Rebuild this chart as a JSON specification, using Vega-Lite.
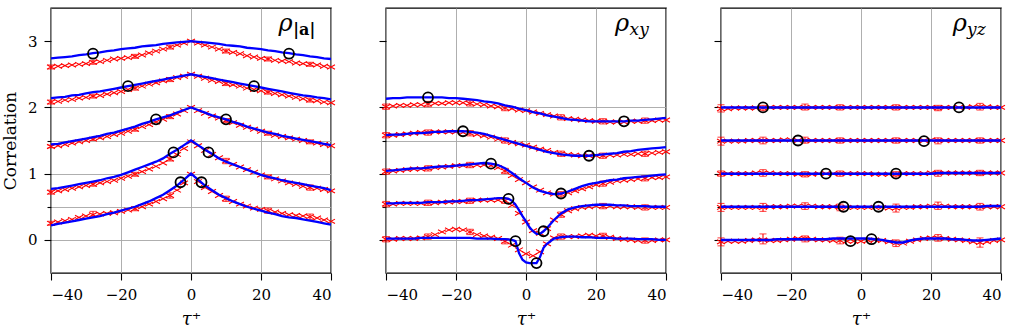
{
  "$schema": "https://vega.github.io/schema/vega-lite/v6.json",
  "background": "white",
  "padding": {"left": 0, "top": 7, "right": 0, "bottom": 0},
  "bounds": "flush",
  "spacing": 55,
  "config": {
    "view": {"stroke": "black", "strokeWidth": 1.4},
    "font": "DejaVu Serif",
    "text": {"font": "DejaVu Serif"},
    "axis": {
      "domain": false,
      "grid": true,
      "gridColor": "#a6a6a6",
      "gridWidth": 0.9,
      "tickColor": "black",
      "tickWidth": 1.1,
      "tickSize": 7,
      "labelFont": "DejaVu Serif",
      "labelFontSize": 15,
      "labelColor": "black",
      "labelPadding": 7,
      "titleFont": "DejaVu Serif",
      "titleFontWeight": "normal",
      "titleColor": "black"
    },
    "axisX": {"titleFontStyle": "italic", "titleFontSize": 18, "titlePadding": 8},
    "axisY": {
      "titleFontSize": 17,
      "titlePadding": 8,
      "labelExpr": "datum.value % 1 === 0 ? format(datum.value, 'd') : ''",
      "tickSize": {"condition": {"test": "datum.value % 1 !== 0", "value": 4}, "value": 7},
      "gridOpacity": {"condition": {"test": "datum.value === 3", "value": 0}, "value": 1}
    }
  },
  "datasets": {
    "a": [
      {"k":0,"t":-40,"m":0.22,"d":0.25,"lo":0.22,"hi":0.28},{"k":0,"t":-38,"m":0.24,"d":0.27},{"k":0,"t":-36,"m":0.26,"d":0.29},{"k":0,"t":-34,"m":0.28,"d":0.31},{"k":0,"t":-32,"m":0.30,"d":0.34},{"k":0,"t":-30,"m":0.32,"d":0.36},{"k":0,"t":-28,"m":0.34,"d":0.38,"lo":0.35,"hi":0.43},{"k":0,"t":-26,"m":0.36,"d":0.39},{"k":0,"t":-24,"m":0.39,"d":0.40},{"k":0,"t":-22,"m":0.41,"d":0.41},{"k":0,"t":-20,"m":0.44,"d":0.43},{"k":0,"t":-18,"m":0.47,"d":0.45},{"k":0,"t":-16,"m":0.50,"d":0.47,"lo":0.44,"hi":0.50},{"k":0,"t":-14,"m":0.54,"d":0.50},{"k":0,"t":-12,"m":0.58,"d":0.54},{"k":0,"t":-10,"m":0.63,"d":0.58},{"k":0,"t":-8,"m":0.68,"d":0.62},{"k":0,"t":-6,"m":0.75,"d":0.67,"lo":0.63,"hi":0.71},{"k":0,"t":-4,"m":0.82,"d":0.75},{"k":0,"t":-2,"m":0.91,"d":0.86},{"k":0,"t":0,"m":1.00,"d":0.99},{"k":0,"t":2,"m":0.91,"d":0.88},{"k":0,"t":4,"m":0.82,"d":0.79},{"k":0,"t":6,"m":0.75,"d":0.73},{"k":0,"t":8,"m":0.68,"d":0.67},{"k":0,"t":10,"m":0.63,"d":0.62,"lo":0.58,"hi":0.66},{"k":0,"t":12,"m":0.58,"d":0.58},{"k":0,"t":14,"m":0.54,"d":0.54},{"k":0,"t":16,"m":0.50,"d":0.51},{"k":0,"t":18,"m":0.47,"d":0.48},{"k":0,"t":20,"m":0.44,"d":0.46},{"k":0,"t":22,"m":0.41,"d":0.44,"lo":0.40,"hi":0.48},{"k":0,"t":24,"m":0.39,"d":0.42},{"k":0,"t":26,"m":0.36,"d":0.40},{"k":0,"t":28,"m":0.34,"d":0.38},{"k":0,"t":30,"m":0.33,"d":0.37},{"k":0,"t":32,"m":0.31,"d":0.36},{"k":0,"t":34,"m":0.29,"d":0.35,"lo":0.31,"hi":0.39},{"k":0,"t":36,"m":0.27,"d":0.33},{"k":0,"t":38,"m":0.25,"d":0.30},{"k":0,"t":40,"m":0.23,"d":0.28},
      {"k":1,"t":-40,"m":0.77,"d":0.72,"lo":0.69,"hi":0.75},{"k":1,"t":-38,"m":0.78,"d":0.74},{"k":1,"t":-36,"m":0.80,"d":0.76},{"k":1,"t":-34,"m":0.82,"d":0.78},{"k":1,"t":-32,"m":0.84,"d":0.80},{"k":1,"t":-30,"m":0.86,"d":0.82},{"k":1,"t":-28,"m":0.88,"d":0.84,"lo":0.81,"hi":0.87},{"k":1,"t":-26,"m":0.90,"d":0.86},{"k":1,"t":-24,"m":0.93,"d":0.88},{"k":1,"t":-22,"m":0.95,"d":0.90},{"k":1,"t":-20,"m":0.98,"d":0.93},{"k":1,"t":-18,"m":1.02,"d":0.96},{"k":1,"t":-16,"m":1.06,"d":0.99,"lo":0.96,"hi":1.02},{"k":1,"t":-14,"m":1.10,"d":1.03},{"k":1,"t":-12,"m":1.14,"d":1.07},{"k":1,"t":-10,"m":1.18,"d":1.11},{"k":1,"t":-8,"m":1.23,"d":1.16},{"k":1,"t":-6,"m":1.30,"d":1.22,"lo":1.19,"hi":1.25},{"k":1,"t":-4,"m":1.36,"d":1.29},{"k":1,"t":-2,"m":1.43,"d":1.38},{"k":1,"t":0,"m":1.50,"d":1.48},{"k":1,"t":2,"m":1.43,"d":1.42},{"k":1,"t":4,"m":1.36,"d":1.35},{"k":1,"t":6,"m":1.30,"d":1.29},{"k":1,"t":8,"m":1.23,"d":1.24},{"k":1,"t":10,"m":1.18,"d":1.19,"lo":1.15,"hi":1.23},{"k":1,"t":12,"m":1.14,"d":1.14},{"k":1,"t":14,"m":1.10,"d":1.10},{"k":1,"t":16,"m":1.06,"d":1.06},{"k":1,"t":18,"m":1.02,"d":1.02},{"k":1,"t":20,"m":0.98,"d":0.98},{"k":1,"t":22,"m":0.95,"d":0.95,"lo":0.92,"hi":0.98},{"k":1,"t":24,"m":0.93,"d":0.92},{"k":1,"t":26,"m":0.90,"d":0.89},{"k":1,"t":28,"m":0.88,"d":0.86},{"k":1,"t":30,"m":0.86,"d":0.84},{"k":1,"t":32,"m":0.84,"d":0.81},{"k":1,"t":34,"m":0.82,"d":0.79,"lo":0.75,"hi":0.83},{"k":1,"t":36,"m":0.80,"d":0.78},{"k":1,"t":38,"m":0.78,"d":0.76},{"k":1,"t":40,"m":0.75,"d":0.74},
      {"k":2,"t":-40,"m":1.44,"d":1.41,"lo":1.39,"hi":1.43},{"k":2,"t":-38,"m":1.45,"d":1.42},{"k":2,"t":-36,"m":1.47,"d":1.44},{"k":2,"t":-34,"m":1.49,"d":1.46},{"k":2,"t":-32,"m":1.51,"d":1.48},{"k":2,"t":-30,"m":1.53,"d":1.50},{"k":2,"t":-28,"m":1.55,"d":1.52,"lo":1.50,"hi":1.54},{"k":2,"t":-26,"m":1.57,"d":1.54},{"k":2,"t":-24,"m":1.60,"d":1.56},{"k":2,"t":-22,"m":1.62,"d":1.59},{"k":2,"t":-20,"m":1.65,"d":1.61},{"k":2,"t":-18,"m":1.68,"d":1.64},{"k":2,"t":-16,"m":1.71,"d":1.67,"lo":1.64,"hi":1.70},{"k":2,"t":-14,"m":1.75,"d":1.71},{"k":2,"t":-12,"m":1.78,"d":1.74},{"k":2,"t":-10,"m":1.82,"d":1.78},{"k":2,"t":-8,"m":1.85,"d":1.82},{"k":2,"t":-6,"m":1.88,"d":1.86,"lo":1.83,"hi":1.89},{"k":2,"t":-4,"m":1.92,"d":1.90},{"k":2,"t":-2,"m":1.96,"d":1.95},{"k":2,"t":0,"m":2.00,"d":2.00},{"k":2,"t":2,"m":1.96,"d":1.95},{"k":2,"t":4,"m":1.92,"d":1.91},{"k":2,"t":6,"m":1.88,"d":1.87},{"k":2,"t":8,"m":1.85,"d":1.84},{"k":2,"t":10,"m":1.82,"d":1.80,"lo":1.77,"hi":1.83},{"k":2,"t":12,"m":1.78,"d":1.77},{"k":2,"t":14,"m":1.75,"d":1.73},{"k":2,"t":16,"m":1.71,"d":1.70},{"k":2,"t":18,"m":1.68,"d":1.67},{"k":2,"t":20,"m":1.65,"d":1.64},{"k":2,"t":22,"m":1.62,"d":1.61,"lo":1.58,"hi":1.64},{"k":2,"t":24,"m":1.60,"d":1.58},{"k":2,"t":26,"m":1.57,"d":1.56},{"k":2,"t":28,"m":1.55,"d":1.54},{"k":2,"t":30,"m":1.53,"d":1.52},{"k":2,"t":32,"m":1.51,"d":1.50},{"k":2,"t":34,"m":1.49,"d":1.48,"lo":1.45,"hi":1.51},{"k":2,"t":36,"m":1.47,"d":1.46},{"k":2,"t":38,"m":1.45,"d":1.44},{"k":2,"t":40,"m":1.43,"d":1.42},
      {"k":3,"t":-40,"m":2.14,"d":2.08,"lo":2.05,"hi":2.11},{"k":3,"t":-38,"m":2.15,"d":2.09},{"k":3,"t":-36,"m":2.16,"d":2.11},{"k":3,"t":-34,"m":2.18,"d":2.12},{"k":3,"t":-32,"m":2.19,"d":2.14},{"k":3,"t":-30,"m":2.21,"d":2.15},{"k":3,"t":-28,"m":2.23,"d":2.17,"lo":2.14,"hi":2.20},{"k":3,"t":-26,"m":2.24,"d":2.18},{"k":3,"t":-24,"m":2.26,"d":2.20},{"k":3,"t":-22,"m":2.28,"d":2.22},{"k":3,"t":-20,"m":2.30,"d":2.24},{"k":3,"t":-18,"m":2.32,"d":2.27},{"k":3,"t":-16,"m":2.34,"d":2.29,"lo":2.26,"hi":2.32},{"k":3,"t":-14,"m":2.36,"d":2.32},{"k":3,"t":-12,"m":2.38,"d":2.35},{"k":3,"t":-10,"m":2.40,"d":2.37},{"k":3,"t":-8,"m":2.42,"d":2.40},{"k":3,"t":-6,"m":2.44,"d":2.42,"lo":2.39,"hi":2.45},{"k":3,"t":-4,"m":2.46,"d":2.45},{"k":3,"t":-2,"m":2.48,"d":2.47},{"k":3,"t":0,"m":2.50,"d":2.50},{"k":3,"t":2,"m":2.48,"d":2.47},{"k":3,"t":4,"m":2.46,"d":2.44},{"k":3,"t":6,"m":2.44,"d":2.41},{"k":3,"t":8,"m":2.42,"d":2.39},{"k":3,"t":10,"m":2.40,"d":2.36,"lo":2.33,"hi":2.39},{"k":3,"t":12,"m":2.38,"d":2.34},{"k":3,"t":14,"m":2.36,"d":2.32},{"k":3,"t":16,"m":2.34,"d":2.29},{"k":3,"t":18,"m":2.32,"d":2.27},{"k":3,"t":20,"m":2.30,"d":2.25},{"k":3,"t":22,"m":2.28,"d":2.23,"lo":2.20,"hi":2.26},{"k":3,"t":24,"m":2.26,"d":2.21},{"k":3,"t":26,"m":2.24,"d":2.19},{"k":3,"t":28,"m":2.22,"d":2.17},{"k":3,"t":30,"m":2.20,"d":2.15},{"k":3,"t":32,"m":2.18,"d":2.13},{"k":3,"t":34,"m":2.17,"d":2.11,"lo":2.08,"hi":2.14},{"k":3,"t":36,"m":2.15,"d":2.10},{"k":3,"t":38,"m":2.14,"d":2.08},{"k":3,"t":40,"m":2.12,"d":2.07},
      {"k":4,"t":-40,"m":2.74,"d":2.61,"lo":2.58,"hi":2.64},{"k":4,"t":-38,"m":2.75,"d":2.62},{"k":4,"t":-36,"m":2.76,"d":2.63},{"k":4,"t":-34,"m":2.77,"d":2.64},{"k":4,"t":-32,"m":2.79,"d":2.65},{"k":4,"t":-30,"m":2.80,"d":2.66},{"k":4,"t":-28,"m":2.82,"d":2.68,"lo":2.65,"hi":2.71},{"k":4,"t":-26,"m":2.83,"d":2.69},{"k":4,"t":-24,"m":2.85,"d":2.71},{"k":4,"t":-22,"m":2.86,"d":2.73},{"k":4,"t":-20,"m":2.88,"d":2.74},{"k":4,"t":-18,"m":2.89,"d":2.75},{"k":4,"t":-16,"m":2.90,"d":2.77,"lo":2.74,"hi":2.80},{"k":4,"t":-14,"m":2.92,"d":2.79},{"k":4,"t":-12,"m":2.93,"d":2.82},{"k":4,"t":-10,"m":2.94,"d":2.85},{"k":4,"t":-8,"m":2.96,"d":2.88},{"k":4,"t":-6,"m":2.97,"d":2.91,"lo":2.88,"hi":2.94},{"k":4,"t":-4,"m":2.98,"d":2.94},{"k":4,"t":-2,"m":2.99,"d":2.97},{"k":4,"t":0,"m":3.00,"d":3.00},{"k":4,"t":2,"m":2.99,"d":2.97},{"k":4,"t":4,"m":2.98,"d":2.94},{"k":4,"t":6,"m":2.97,"d":2.91},{"k":4,"t":8,"m":2.96,"d":2.88},{"k":4,"t":10,"m":2.94,"d":2.85,"lo":2.82,"hi":2.88},{"k":4,"t":12,"m":2.93,"d":2.83},{"k":4,"t":14,"m":2.92,"d":2.81},{"k":4,"t":16,"m":2.90,"d":2.78},{"k":4,"t":18,"m":2.89,"d":2.76},{"k":4,"t":20,"m":2.88,"d":2.74},{"k":4,"t":22,"m":2.86,"d":2.73,"lo":2.70,"hi":2.76},{"k":4,"t":24,"m":2.85,"d":2.71},{"k":4,"t":26,"m":2.83,"d":2.70},{"k":4,"t":28,"m":2.82,"d":2.69},{"k":4,"t":30,"m":2.80,"d":2.67},{"k":4,"t":32,"m":2.79,"d":2.66},{"k":4,"t":34,"m":2.77,"d":2.65,"lo":2.62,"hi":2.68},{"k":4,"t":36,"m":2.76,"d":2.64},{"k":4,"t":38,"m":2.74,"d":2.62},{"k":4,"t":40,"m":2.73,"d":2.61}
    ],
    "xy": [
      {"k":0,"t":-40,"m":0.02,"d":0.01,"lo":-0.03,"hi":0.05},{"k":0,"t":-38,"m":0.02,"d":0.01},{"k":0,"t":-36,"m":0.02,"d":0.02},{"k":0,"t":-34,"m":0.02,"d":0.02},{"k":0,"t":-32,"m":0.02,"d":0.02},{"k":0,"t":-30,"m":0.03,"d":0.03},{"k":0,"t":-28,"m":0.03,"d":0.05,"lo":0.01,"hi":0.09},{"k":0,"t":-26,"m":0.03,"d":0.08},{"k":0,"t":-24,"m":0.03,"d":0.12},{"k":0,"t":-22,"m":0.03,"d":0.15},{"k":0,"t":-20,"m":0.03,"d":0.16},{"k":0,"t":-18,"m":0.03,"d":0.15},{"k":0,"t":-16,"m":0.03,"d":0.12,"lo":0.08,"hi":0.16},{"k":0,"t":-14,"m":0.02,"d":0.08},{"k":0,"t":-12,"m":0.02,"d":0.06},{"k":0,"t":-10,"m":0.02,"d":0.04},{"k":0,"t":-8,"m":0.01,"d":0.02},{"k":0,"t":-6,"m":0.01,"d":-0.02,"lo":-0.06,"hi":0.02},{"k":0,"t":-4,"m":0.00,"d":-0.08},{"k":0,"t":-3,"m":-0.02},{"k":0,"t":-2,"m":-0.20,"d":-0.15},{"k":0,"t":-1,"m":-0.30},{"k":0,"t":0,"m":-0.34,"d":-0.21},{"k":0,"t":1,"m":-0.35},{"k":0,"t":2,"m":-0.35,"d":-0.24},{"k":0,"t":3,"m":-0.35},{"k":0,"t":4,"m":-0.26,"d":-0.18},{"k":0,"t":5,"m":-0.12},{"k":0,"t":6,"m":-0.06,"d":-0.06},{"k":0,"t":8,"m":0.02,"d":0.03},{"k":0,"t":10,"m":0.04,"d":0.05,"lo":0.01,"hi":0.09},{"k":0,"t":12,"m":0.05,"d":0.05},{"k":0,"t":14,"m":0.05,"d":0.05},{"k":0,"t":16,"m":0.04,"d":0.06},{"k":0,"t":18,"m":0.04,"d":0.07},{"k":0,"t":20,"m":0.03,"d":0.06},{"k":0,"t":22,"m":0.03,"d":0.06,"lo":0.02,"hi":0.10},{"k":0,"t":24,"m":0.03,"d":0.04},{"k":0,"t":26,"m":0.02,"d":0.02},{"k":0,"t":28,"m":0.02,"d":0.01},{"k":0,"t":30,"m":0.02,"d":0.00},{"k":0,"t":32,"m":0.01,"d":-0.01},{"k":0,"t":34,"m":0.01,"d":-0.01,"lo":-0.05,"hi":0.03},{"k":0,"t":36,"m":0.01,"d":-0.01},{"k":0,"t":38,"m":0.00,"d":0.00},{"k":0,"t":40,"m":0.00,"d":0.00},
      {"k":1,"t":-40,"m":0.55,"d":0.54,"lo":0.50,"hi":0.58},{"k":1,"t":-38,"m":0.55,"d":0.54},{"k":1,"t":-36,"m":0.56,"d":0.55},{"k":1,"t":-34,"m":0.56,"d":0.55},{"k":1,"t":-32,"m":0.56,"d":0.55},{"k":1,"t":-30,"m":0.56,"d":0.55},{"k":1,"t":-28,"m":0.57,"d":0.56,"lo":0.52,"hi":0.60},{"k":1,"t":-26,"m":0.57,"d":0.56},{"k":1,"t":-24,"m":0.57,"d":0.57},{"k":1,"t":-22,"m":0.58,"d":0.57},{"k":1,"t":-20,"m":0.58,"d":0.58},{"k":1,"t":-18,"m":0.59,"d":0.58},{"k":1,"t":-16,"m":0.60,"d":0.59,"lo":0.55,"hi":0.63},{"k":1,"t":-14,"m":0.60,"d":0.60},{"k":1,"t":-12,"m":0.61,"d":0.60},{"k":1,"t":-10,"m":0.62,"d":0.60},{"k":1,"t":-8,"m":0.63,"d":0.60},{"k":1,"t":-6,"m":0.63,"d":0.59,"lo":0.55,"hi":0.63},{"k":1,"t":-5,"m":0.62},{"k":1,"t":-4,"m":0.59,"d":0.52},{"k":1,"t":-3,"m":0.53},{"k":1,"t":-2,"m":0.45,"d":0.40},{"k":1,"t":-1,"m":0.36},{"k":1,"t":0,"m":0.28,"d":0.27},{"k":1,"t":1,"m":0.19},{"k":1,"t":2,"m":0.13,"d":0.14},{"k":1,"t":3,"m":0.09},{"k":1,"t":4,"m":0.09,"d":0.10},{"k":1,"t":5,"m":0.13},{"k":1,"t":6,"m":0.18,"d":0.17},{"k":1,"t":8,"m":0.30,"d":0.30},{"k":1,"t":10,"m":0.40,"d":0.38,"lo":0.34,"hi":0.42},{"k":1,"t":12,"m":0.46,"d":0.44},{"k":1,"t":14,"m":0.49,"d":0.47},{"k":1,"t":16,"m":0.51,"d":0.49},{"k":1,"t":18,"m":0.52,"d":0.50},{"k":1,"t":20,"m":0.53,"d":0.51},{"k":1,"t":22,"m":0.53,"d":0.51,"lo":0.47,"hi":0.55},{"k":1,"t":24,"m":0.53,"d":0.51},{"k":1,"t":26,"m":0.52,"d":0.50},{"k":1,"t":28,"m":0.52,"d":0.50},{"k":1,"t":30,"m":0.51,"d":0.50},{"k":1,"t":32,"m":0.51,"d":0.49},{"k":1,"t":34,"m":0.51,"d":0.49,"lo":0.45,"hi":0.53},{"k":1,"t":36,"m":0.50,"d":0.49},{"k":1,"t":38,"m":0.50,"d":0.49},{"k":1,"t":40,"m":0.50,"d":0.49},
      {"k":2,"t":-40,"m":1.04,"d":1.03,"lo":0.99,"hi":1.07},{"k":2,"t":-38,"m":1.05,"d":1.04},{"k":2,"t":-36,"m":1.06,"d":1.05},{"k":2,"t":-34,"m":1.07,"d":1.06},{"k":2,"t":-32,"m":1.08,"d":1.07},{"k":2,"t":-30,"m":1.08,"d":1.07},{"k":2,"t":-28,"m":1.09,"d":1.08,"lo":1.04,"hi":1.12},{"k":2,"t":-26,"m":1.10,"d":1.09},{"k":2,"t":-24,"m":1.11,"d":1.10},{"k":2,"t":-22,"m":1.11,"d":1.11},{"k":2,"t":-20,"m":1.12,"d":1.12},{"k":2,"t":-18,"m":1.13,"d":1.12},{"k":2,"t":-16,"m":1.14,"d":1.13,"lo":1.09,"hi":1.17},{"k":2,"t":-14,"m":1.15,"d":1.13},{"k":2,"t":-12,"m":1.16,"d":1.13},{"k":2,"t":-10,"m":1.15,"d":1.12},{"k":2,"t":-8,"m":1.13,"d":1.09},{"k":2,"t":-6,"m":1.08,"d":1.04,"lo":1.00,"hi":1.08},{"k":2,"t":-4,"m":1.01,"d":0.97},{"k":2,"t":-2,"m":0.93,"d":0.91},{"k":2,"t":0,"m":0.86,"d":0.86},{"k":2,"t":2,"m":0.79,"d":0.80},{"k":2,"t":4,"m":0.74,"d":0.75},{"k":2,"t":6,"m":0.71,"d":0.71},{"k":2,"t":8,"m":0.69,"d":0.69},{"k":2,"t":10,"m":0.70,"d":0.69,"lo":0.65,"hi":0.73},{"k":2,"t":12,"m":0.73,"d":0.71},{"k":2,"t":14,"m":0.77,"d":0.74},{"k":2,"t":16,"m":0.81,"d":0.77},{"k":2,"t":18,"m":0.84,"d":0.80},{"k":2,"t":20,"m":0.86,"d":0.83},{"k":2,"t":22,"m":0.88,"d":0.85,"lo":0.81,"hi":0.89},{"k":2,"t":24,"m":0.90,"d":0.87},{"k":2,"t":26,"m":0.91,"d":0.89},{"k":2,"t":28,"m":0.93,"d":0.90},{"k":2,"t":30,"m":0.94,"d":0.91},{"k":2,"t":32,"m":0.95,"d":0.92},{"k":2,"t":34,"m":0.96,"d":0.93,"lo":0.89,"hi":0.97},{"k":2,"t":36,"m":0.97,"d":0.94},{"k":2,"t":38,"m":0.98,"d":0.94},{"k":2,"t":40,"m":0.99,"d":0.95},
      {"k":3,"t":-40,"m":1.58,"d":1.58,"lo":1.54,"hi":1.62},{"k":3,"t":-38,"m":1.59,"d":1.58},{"k":3,"t":-36,"m":1.59,"d":1.59},{"k":3,"t":-34,"m":1.60,"d":1.60},{"k":3,"t":-32,"m":1.61,"d":1.61},{"k":3,"t":-30,"m":1.61,"d":1.62},{"k":3,"t":-28,"m":1.62,"d":1.62,"lo":1.58,"hi":1.66},{"k":3,"t":-26,"m":1.63,"d":1.63},{"k":3,"t":-24,"m":1.63,"d":1.63},{"k":3,"t":-22,"m":1.64,"d":1.63},{"k":3,"t":-20,"m":1.64,"d":1.63},{"k":3,"t":-18,"m":1.64,"d":1.62},{"k":3,"t":-16,"m":1.63,"d":1.61,"lo":1.57,"hi":1.65},{"k":3,"t":-14,"m":1.62,"d":1.59},{"k":3,"t":-12,"m":1.60,"d":1.57},{"k":3,"t":-10,"m":1.57,"d":1.55},{"k":3,"t":-8,"m":1.54,"d":1.52},{"k":3,"t":-6,"m":1.51,"d":1.50,"lo":1.46,"hi":1.54},{"k":3,"t":-4,"m":1.48,"d":1.47},{"k":3,"t":-2,"m":1.45,"d":1.45},{"k":3,"t":0,"m":1.42,"d":1.43},{"k":3,"t":2,"m":1.39,"d":1.40},{"k":3,"t":4,"m":1.36,"d":1.37},{"k":3,"t":6,"m":1.33,"d":1.35},{"k":3,"t":8,"m":1.31,"d":1.32},{"k":3,"t":10,"m":1.29,"d":1.30,"lo":1.26,"hi":1.34},{"k":3,"t":12,"m":1.28,"d":1.29},{"k":3,"t":14,"m":1.27,"d":1.28},{"k":3,"t":16,"m":1.27,"d":1.27},{"k":3,"t":18,"m":1.27,"d":1.27},{"k":3,"t":20,"m":1.28,"d":1.27},{"k":3,"t":22,"m":1.29,"d":1.27,"lo":1.23,"hi":1.31},{"k":3,"t":24,"m":1.30,"d":1.28},{"k":3,"t":26,"m":1.31,"d":1.28},{"k":3,"t":28,"m":1.33,"d":1.29},{"k":3,"t":30,"m":1.34,"d":1.29},{"k":3,"t":32,"m":1.36,"d":1.30},{"k":3,"t":34,"m":1.37,"d":1.30,"lo":1.26,"hi":1.34},{"k":3,"t":36,"m":1.38,"d":1.31},{"k":3,"t":38,"m":1.39,"d":1.32},{"k":3,"t":40,"m":1.40,"d":1.33},
      {"k":4,"t":-40,"m":2.13,"d":2.01,"lo":1.97,"hi":2.05},{"k":4,"t":-38,"m":2.14,"d":2.02},{"k":4,"t":-36,"m":2.14,"d":2.03},{"k":4,"t":-34,"m":2.15,"d":2.03},{"k":4,"t":-32,"m":2.15,"d":2.04},{"k":4,"t":-30,"m":2.15,"d":2.04},{"k":4,"t":-28,"m":2.15,"d":2.05,"lo":2.01,"hi":2.09},{"k":4,"t":-26,"m":2.15,"d":2.06},{"k":4,"t":-24,"m":2.15,"d":2.06},{"k":4,"t":-22,"m":2.14,"d":2.07},{"k":4,"t":-20,"m":2.14,"d":2.07},{"k":4,"t":-18,"m":2.13,"d":2.07},{"k":4,"t":-16,"m":2.12,"d":2.06,"lo":2.02,"hi":2.10},{"k":4,"t":-14,"m":2.11,"d":2.05},{"k":4,"t":-12,"m":2.09,"d":2.04},{"k":4,"t":-10,"m":2.08,"d":2.02},{"k":4,"t":-8,"m":2.06,"d":2.01},{"k":4,"t":-6,"m":2.03,"d":1.99,"lo":1.95,"hi":2.03},{"k":4,"t":-4,"m":2.01,"d":1.98},{"k":4,"t":-2,"m":1.98,"d":1.96},{"k":4,"t":0,"m":1.96,"d":1.95},{"k":4,"t":2,"m":1.93,"d":1.93},{"k":4,"t":4,"m":1.91,"d":1.91},{"k":4,"t":6,"m":1.88,"d":1.89},{"k":4,"t":8,"m":1.86,"d":1.87},{"k":4,"t":10,"m":1.84,"d":1.85,"lo":1.81,"hi":1.89},{"k":4,"t":12,"m":1.82,"d":1.83},{"k":4,"t":14,"m":1.81,"d":1.82},{"k":4,"t":16,"m":1.80,"d":1.81},{"k":4,"t":18,"m":1.79,"d":1.80},{"k":4,"t":20,"m":1.79,"d":1.79},{"k":4,"t":22,"m":1.79,"d":1.79,"lo":1.75,"hi":1.83},{"k":4,"t":24,"m":1.79,"d":1.78},{"k":4,"t":26,"m":1.79,"d":1.78},{"k":4,"t":28,"m":1.79,"d":1.78},{"k":4,"t":30,"m":1.80,"d":1.79},{"k":4,"t":32,"m":1.80,"d":1.79},{"k":4,"t":34,"m":1.81,"d":1.80,"lo":1.76,"hi":1.84},{"k":4,"t":36,"m":1.82,"d":1.80},{"k":4,"t":38,"m":1.83,"d":1.81},{"k":4,"t":40,"m":1.84,"d":1.81}
    ],
    "yz": [
      {"k":0,"t":-40,"m":0.00,"d":-0.03,"lo":-0.09,"hi":0.03},{"k":0,"t":-38,"m":0.00,"d":-0.02},{"k":0,"t":-36,"m":0.00,"d":-0.02},{"k":0,"t":-34,"m":0.00,"d":-0.02},{"k":0,"t":-32,"m":0.00,"d":-0.01},{"k":0,"t":-30,"m":0.00,"d":0.00},{"k":0,"t":-28,"m":0.00,"d":0.00,"lo":-0.06,"hi":0.09},{"k":0,"t":-26,"m":0.00,"d":-0.01},{"k":0,"t":-24,"m":0.01,"d":-0.01},{"k":0,"t":-22,"m":0.01,"d":0.00},{"k":0,"t":-20,"m":0.01,"d":0.01},{"k":0,"t":-18,"m":0.01,"d":0.02},{"k":0,"t":-16,"m":0.01,"d":0.02,"lo":-0.03,"hi":0.06},{"k":0,"t":-14,"m":0.01,"d":0.01},{"k":0,"t":-12,"m":0.01,"d":0.00},{"k":0,"t":-10,"m":0.01,"d":0.00},{"k":0,"t":-8,"m":0.02,"d":-0.01},{"k":0,"t":-6,"m":0.02,"d":-0.01,"lo":-0.06,"hi":0.04},{"k":0,"t":-4,"m":0.02,"d":-0.02},{"k":0,"t":-2,"m":0.02,"d":-0.02},{"k":0,"t":0,"m":0.02,"d":-0.02},{"k":0,"t":2,"m":0.02,"d":-0.01},{"k":0,"t":4,"m":0.01,"d":0.00},{"k":0,"t":6,"m":0.00,"d":-0.01},{"k":0,"t":8,"m":-0.02,"d":-0.03},{"k":0,"t":10,"m":-0.04,"d":-0.05,"lo":-0.10,"hi":0.00},{"k":0,"t":12,"m":-0.04,"d":-0.05},{"k":0,"t":14,"m":-0.01,"d":-0.02},{"k":0,"t":16,"m":0.01,"d":0.00},{"k":0,"t":18,"m":0.02,"d":0.02},{"k":0,"t":20,"m":0.02,"d":0.03},{"k":0,"t":22,"m":0.02,"d":0.03,"lo":-0.02,"hi":0.08},{"k":0,"t":24,"m":0.02,"d":0.02},{"k":0,"t":26,"m":0.01,"d":0.01},{"k":0,"t":28,"m":0.01,"d":0.00},{"k":0,"t":30,"m":0.00,"d":-0.01},{"k":0,"t":32,"m":-0.01,"d":-0.03},{"k":0,"t":34,"m":-0.01,"d":-0.04,"lo":-0.11,"hi":0.03},{"k":0,"t":36,"m":0.00,"d":-0.03},{"k":0,"t":38,"m":0.01,"d":-0.01},{"k":0,"t":40,"m":0.02,"d":0.00},
      {"k":1,"t":-40,"m":0.50,"d":0.49,"lo":0.43,"hi":0.55},{"k":1,"t":-38,"m":0.50,"d":0.49},{"k":1,"t":-36,"m":0.50,"d":0.49},{"k":1,"t":-34,"m":0.50,"d":0.49},{"k":1,"t":-32,"m":0.50,"d":0.49},{"k":1,"t":-30,"m":0.50,"d":0.49},{"k":1,"t":-28,"m":0.50,"d":0.49,"lo":0.43,"hi":0.55},{"k":1,"t":-26,"m":0.50,"d":0.50},{"k":1,"t":-24,"m":0.50,"d":0.50},{"k":1,"t":-22,"m":0.50,"d":0.50},{"k":1,"t":-20,"m":0.50,"d":0.51},{"k":1,"t":-18,"m":0.50,"d":0.51},{"k":1,"t":-16,"m":0.50,"d":0.51,"lo":0.46,"hi":0.56},{"k":1,"t":-14,"m":0.50,"d":0.51},{"k":1,"t":-12,"m":0.50,"d":0.50},{"k":1,"t":-10,"m":0.50,"d":0.50},{"k":1,"t":-8,"m":0.50,"d":0.50},{"k":1,"t":-6,"m":0.50,"d":0.49,"lo":0.44,"hi":0.54},{"k":1,"t":-4,"m":0.50,"d":0.49},{"k":1,"t":-2,"m":0.50,"d":0.49},{"k":1,"t":0,"m":0.50,"d":0.49},{"k":1,"t":2,"m":0.50,"d":0.49},{"k":1,"t":4,"m":0.50,"d":0.49},{"k":1,"t":6,"m":0.50,"d":0.49},{"k":1,"t":8,"m":0.50,"d":0.48},{"k":1,"t":10,"m":0.50,"d":0.48,"lo":0.42,"hi":0.54},{"k":1,"t":12,"m":0.50,"d":0.49},{"k":1,"t":14,"m":0.50,"d":0.49},{"k":1,"t":16,"m":0.50,"d":0.50},{"k":1,"t":18,"m":0.50,"d":0.50},{"k":1,"t":20,"m":0.50,"d":0.51},{"k":1,"t":22,"m":0.50,"d":0.51,"lo":0.46,"hi":0.57},{"k":1,"t":24,"m":0.50,"d":0.51},{"k":1,"t":26,"m":0.50,"d":0.50},{"k":1,"t":28,"m":0.50,"d":0.50},{"k":1,"t":30,"m":0.50,"d":0.50},{"k":1,"t":32,"m":0.50,"d":0.50},{"k":1,"t":34,"m":0.50,"d":0.50,"lo":0.45,"hi":0.55},{"k":1,"t":36,"m":0.51,"d":0.50},{"k":1,"t":38,"m":0.51,"d":0.50},{"k":1,"t":40,"m":0.51,"d":0.50},
      {"k":2,"t":-40,"m":1.00,"d":1.00,"lo":0.96,"hi":1.04},{"k":2,"t":-38,"m":1.00,"d":1.00},{"k":2,"t":-36,"m":1.00,"d":1.00},{"k":2,"t":-34,"m":1.00,"d":1.00},{"k":2,"t":-32,"m":1.00,"d":1.00},{"k":2,"t":-30,"m":1.00,"d":1.01},{"k":2,"t":-28,"m":1.00,"d":1.01,"lo":0.96,"hi":1.06},{"k":2,"t":-26,"m":1.00,"d":1.01},{"k":2,"t":-24,"m":1.00,"d":1.00},{"k":2,"t":-22,"m":1.00,"d":1.00},{"k":2,"t":-20,"m":1.00,"d":1.00},{"k":2,"t":-18,"m":1.00,"d":0.99},{"k":2,"t":-16,"m":1.00,"d":0.99,"lo":0.95,"hi":1.03},{"k":2,"t":-14,"m":1.00,"d":0.99},{"k":2,"t":-12,"m":1.00,"d":1.00},{"k":2,"t":-10,"m":1.00,"d":1.00},{"k":2,"t":-8,"m":1.00,"d":1.00},{"k":2,"t":-6,"m":1.00,"d":1.00,"lo":0.96,"hi":1.04},{"k":2,"t":-4,"m":1.00,"d":1.00},{"k":2,"t":-2,"m":1.00,"d":1.00},{"k":2,"t":0,"m":1.00,"d":1.00},{"k":2,"t":2,"m":1.00,"d":1.00},{"k":2,"t":4,"m":1.00,"d":0.99},{"k":2,"t":6,"m":1.00,"d":0.99},{"k":2,"t":8,"m":1.00,"d":0.99},{"k":2,"t":10,"m":1.00,"d":0.99,"lo":0.95,"hi":1.03},{"k":2,"t":12,"m":1.00,"d":1.00},{"k":2,"t":14,"m":1.00,"d":1.00},{"k":2,"t":16,"m":1.00,"d":1.00},{"k":2,"t":18,"m":1.00,"d":1.00},{"k":2,"t":20,"m":1.00,"d":1.01},{"k":2,"t":22,"m":1.01,"d":1.01,"lo":0.96,"hi":1.05},{"k":2,"t":24,"m":1.01,"d":1.01},{"k":2,"t":26,"m":1.01,"d":1.01},{"k":2,"t":28,"m":1.01,"d":1.01},{"k":2,"t":30,"m":1.01,"d":1.01},{"k":2,"t":32,"m":1.01,"d":1.01},{"k":2,"t":34,"m":1.01,"d":1.01,"lo":0.97,"hi":1.05},{"k":2,"t":36,"m":1.01,"d":1.01},{"k":2,"t":38,"m":1.01,"d":1.01},{"k":2,"t":40,"m":1.01,"d":1.01},
      {"k":3,"t":-40,"m":1.50,"d":1.49,"lo":1.43,"hi":1.55},{"k":3,"t":-38,"m":1.50,"d":1.49},{"k":3,"t":-36,"m":1.50,"d":1.49},{"k":3,"t":-34,"m":1.50,"d":1.49},{"k":3,"t":-32,"m":1.50,"d":1.50},{"k":3,"t":-30,"m":1.50,"d":1.50},{"k":3,"t":-28,"m":1.50,"d":1.50,"lo":1.45,"hi":1.55},{"k":3,"t":-26,"m":1.50,"d":1.50},{"k":3,"t":-24,"m":1.50,"d":1.50},{"k":3,"t":-22,"m":1.50,"d":1.51},{"k":3,"t":-20,"m":1.50,"d":1.51},{"k":3,"t":-18,"m":1.50,"d":1.50},{"k":3,"t":-16,"m":1.50,"d":1.50,"lo":1.46,"hi":1.55},{"k":3,"t":-14,"m":1.50,"d":1.50},{"k":3,"t":-12,"m":1.50,"d":1.50},{"k":3,"t":-10,"m":1.50,"d":1.50},{"k":3,"t":-8,"m":1.50,"d":1.50},{"k":3,"t":-6,"m":1.50,"d":1.50,"lo":1.46,"hi":1.54},{"k":3,"t":-4,"m":1.50,"d":1.50},{"k":3,"t":-2,"m":1.50,"d":1.50},{"k":3,"t":0,"m":1.50,"d":1.50},{"k":3,"t":2,"m":1.50,"d":1.50},{"k":3,"t":4,"m":1.50,"d":1.50},{"k":3,"t":6,"m":1.50,"d":1.50},{"k":3,"t":8,"m":1.50,"d":1.50},{"k":3,"t":10,"m":1.50,"d":1.50,"lo":1.46,"hi":1.54},{"k":3,"t":12,"m":1.50,"d":1.50},{"k":3,"t":14,"m":1.50,"d":1.50},{"k":3,"t":16,"m":1.50,"d":1.50},{"k":3,"t":18,"m":1.50,"d":1.50},{"k":3,"t":20,"m":1.50,"d":1.51},{"k":3,"t":22,"m":1.50,"d":1.50,"lo":1.45,"hi":1.54},{"k":3,"t":24,"m":1.50,"d":1.50},{"k":3,"t":26,"m":1.50,"d":1.50},{"k":3,"t":28,"m":1.50,"d":1.50},{"k":3,"t":30,"m":1.50,"d":1.50},{"k":3,"t":32,"m":1.50,"d":1.50},{"k":3,"t":34,"m":1.50,"d":1.50,"lo":1.46,"hi":1.54},{"k":3,"t":36,"m":1.50,"d":1.50},{"k":3,"t":38,"m":1.50,"d":1.50},{"k":3,"t":40,"m":1.50,"d":1.50},
      {"k":4,"t":-40,"m":2.00,"d":1.98,"lo":1.93,"hi":2.04},{"k":4,"t":-38,"m":2.00,"d":1.98},{"k":4,"t":-36,"m":2.00,"d":1.99},{"k":4,"t":-34,"m":2.00,"d":1.99},{"k":4,"t":-32,"m":2.00,"d":1.99},{"k":4,"t":-30,"m":2.00,"d":1.99},{"k":4,"t":-28,"m":2.00,"d":1.99,"lo":1.95,"hi":2.03},{"k":4,"t":-26,"m":2.00,"d":2.00},{"k":4,"t":-24,"m":2.00,"d":2.00},{"k":4,"t":-22,"m":2.00,"d":2.00},{"k":4,"t":-20,"m":2.00,"d":2.00},{"k":4,"t":-18,"m":2.00,"d":2.00},{"k":4,"t":-16,"m":2.00,"d":2.00,"lo":1.96,"hi":2.05},{"k":4,"t":-14,"m":2.00,"d":2.00},{"k":4,"t":-12,"m":2.00,"d":2.00},{"k":4,"t":-10,"m":2.00,"d":2.00},{"k":4,"t":-8,"m":2.00,"d":2.00},{"k":4,"t":-6,"m":2.00,"d":2.00,"lo":1.96,"hi":2.04},{"k":4,"t":-4,"m":2.00,"d":2.00},{"k":4,"t":-2,"m":2.00,"d":2.00},{"k":4,"t":0,"m":2.00,"d":2.00},{"k":4,"t":2,"m":2.00,"d":2.00},{"k":4,"t":4,"m":2.00,"d":2.00},{"k":4,"t":6,"m":2.00,"d":2.00},{"k":4,"t":8,"m":2.00,"d":2.00},{"k":4,"t":10,"m":2.00,"d":2.00,"lo":1.96,"hi":2.04},{"k":4,"t":12,"m":2.00,"d":2.00},{"k":4,"t":14,"m":2.00,"d":2.00},{"k":4,"t":16,"m":2.00,"d":2.00},{"k":4,"t":18,"m":2.00,"d":2.00},{"k":4,"t":20,"m":2.00,"d":2.00},{"k":4,"t":22,"m":2.00,"d":1.99,"lo":1.95,"hi":2.03},{"k":4,"t":24,"m":2.00,"d":2.00},{"k":4,"t":26,"m":2.00,"d":2.00},{"k":4,"t":28,"m":2.00,"d":2.00},{"k":4,"t":30,"m":2.00,"d":2.00},{"k":4,"t":32,"m":2.00,"d":2.01},{"k":4,"t":34,"m":2.00,"d":2.01,"lo":1.96,"hi":2.06},{"k":4,"t":36,"m":2.00,"d":2.01},{"k":4,"t":38,"m":2.00,"d":2.00},{"k":4,"t":40,"m":2.00,"d":2.00}
    ],
    "ca": [
      {"t":-3,"v":0.87},{"t":3,"v":0.87},{"t":-5,"v":1.32},{"t":5,"v":1.32},{"t":-10,"v":1.82},{"t":10,"v":1.82},{"t":-18,"v":2.32},{"t":18,"v":2.32},{"t":-28,"v":2.81},{"t":28,"v":2.81}
    ],
    "cxy": [
      {"t":-3,"v":-0.02},{"t":3,"v":-0.35},{"t":-5,"v":0.62},{"t":5,"v":0.13},{"t":-10,"v":1.15},{"t":10,"v":0.70},{"t":-18,"v":1.64},{"t":18,"v":1.27},{"t":-28,"v":2.15},{"t":28,"v":1.79}
    ],
    "cyz": [
      {"t":-3,"v":-0.02},{"t":3,"v":0.01},{"t":-5,"v":0.50},{"t":5,"v":0.50},{"t":-10,"v":1.00},{"t":10,"v":1.00},{"t":-18,"v":1.50},{"t":18,"v":1.49},{"t":-28,"v":2.00},{"t":28,"v":2.00}
    ],
    "la": [{"s":"ρ","t":25,"v":3.15}],
    "sa": [{"s":"|a|","t":29.2,"v":3.1}],
    "lxy": [{"s":"ρ","t":25.4,"v":3.15}],
    "sxy": [{"s":"xy","t":29.6,"v":3.1}],
    "lyz": [{"s":"ρ","t":26.2,"v":3.15}],
    "syz": [{"s":"yz","t":30.3,"v":3.1}]
  },
  "hconcat": [
    {
      "width": 280,
      "height": 265,
      "data": {"name": "a"},
      "encoding": {
        "x": {"field": "t", "type": "quantitative", "scale": {"domain": [-40, 40], "nice": false, "zero": false}, "axis": {"title": "τ⁺", "values": [-40, -20, 0, 20, 40]}}
      },
      "layer": [
        {"transform": [{"filter": "isValid(datum.lo)"}], "mark": {"type": "errorbar", "color": "#ff0000", "thickness": 1.1, "ticks": {"size": 7}},
          "encoding": {"y": {"field": "lo", "type": "quantitative", "scale": {"domain": [-0.5, 3.5], "nice": false, "zero": false}, "axis": {"title": "Correlation", "values": [0, 0.5, 1, 1.5, 2, 3]}}, "y2": {"field": "hi"}}},
        {"transform": [{"filter": "isValid(datum.d)"}], "mark": {"type": "point", "shape": "M-1,-0.55L1,0.55M-1,0.55L1,-0.55", "filled": false, "color": "#ff0000", "strokeWidth": 1.1, "size": 64, "opacity": 1},
          "encoding": {"y": {"field": "d", "type": "quantitative", "scale": {"domain": [-0.5, 3.5], "nice": false, "zero": false}, "axis": {"title": "Correlation", "values": [0, 0.5, 1, 1.5, 2, 3]}}}},
        {"mark": {"type": "line", "color": "#0000ff", "strokeWidth": 2.3},
          "encoding": {"y": {"field": "m", "type": "quantitative", "scale": {"domain": [-0.5, 3.5], "nice": false, "zero": false}, "axis": {"title": "Correlation", "values": [0, 0.5, 1, 1.5, 2, 3]}}, "detail": {"field": "k"}}},
        {"data": {"name": "ca"}, "mark": {"type": "point", "shape": "circle", "filled": false, "color": "black", "strokeWidth": 1.8, "size": 100, "opacity": 1},
          "encoding": {"y": {"field": "v", "type": "quantitative", "scale": {"domain": [-0.5, 3.5], "nice": false, "zero": false}, "axis": {"title": "Correlation", "values": [0, 0.5, 1, 1.5, 2, 3]}}}},
        {"data": {"name": "la"}, "mark": {"type": "text", "font": "DejaVu Serif", "fontStyle": "italic", "fontSize": 24, "align": "left", "baseline": "alphabetic", "color": "black"},
          "encoding": {"text": {"field": "s"}, "y": {"field": "v", "type": "quantitative", "scale": {"domain": [-0.5, 3.5], "nice": false, "zero": false}, "axis": {"title": "Correlation", "values": [0, 0.5, 1, 1.5, 2, 3]}}}},
        {"data": {"name": "sa"}, "mark": {"type": "text", "font": "DejaVu Serif", "fontWeight": "bold", "fontSize": 16, "align": "left", "baseline": "alphabetic", "color": "black"},
          "encoding": {"text": {"field": "s"}, "y": {"field": "v", "type": "quantitative", "scale": {"domain": [-0.5, 3.5], "nice": false, "zero": false}, "axis": {"title": "Correlation", "values": [0, 0.5, 1, 1.5, 2, 3]}}}}
      ]
    },
    {
      "width": 280,
      "height": 265,
      "data": {"name": "xy"},
      "encoding": {
        "x": {"field": "t", "type": "quantitative", "scale": {"domain": [-40, 40], "nice": false, "zero": false}, "axis": {"title": "τ⁺", "values": [-40, -20, 0, 20, 40]}}
      },
      "layer": [
        {"transform": [{"filter": "isValid(datum.lo)"}], "mark": {"type": "errorbar", "color": "#ff0000", "thickness": 1.1, "ticks": {"size": 7}},
          "encoding": {"y": {"field": "lo", "type": "quantitative", "scale": {"domain": [-0.5, 3.5], "nice": false, "zero": false}, "axis": {"title": null, "labels": false, "values": [0, 0.5, 1, 1.5, 2, 3]}}, "y2": {"field": "hi"}}},
        {"transform": [{"filter": "isValid(datum.d)"}], "mark": {"type": "point", "shape": "M-1,-0.55L1,0.55M-1,0.55L1,-0.55", "filled": false, "color": "#ff0000", "strokeWidth": 1.1, "size": 64, "opacity": 1},
          "encoding": {"y": {"field": "d", "type": "quantitative", "scale": {"domain": [-0.5, 3.5], "nice": false, "zero": false}, "axis": {"title": null, "labels": false, "values": [0, 0.5, 1, 1.5, 2, 3]}}}},
        {"mark": {"type": "line", "color": "#0000ff", "strokeWidth": 2.3},
          "encoding": {"y": {"field": "m", "type": "quantitative", "scale": {"domain": [-0.5, 3.5], "nice": false, "zero": false}, "axis": {"title": null, "labels": false, "values": [0, 0.5, 1, 1.5, 2, 3]}}, "detail": {"field": "k"}}},
        {"data": {"name": "cxy"}, "mark": {"type": "point", "shape": "circle", "filled": false, "color": "black", "strokeWidth": 1.8, "size": 100, "opacity": 1},
          "encoding": {"y": {"field": "v", "type": "quantitative", "scale": {"domain": [-0.5, 3.5], "nice": false, "zero": false}, "axis": {"title": null, "labels": false, "values": [0, 0.5, 1, 1.5, 2, 3]}}}},
        {"data": {"name": "lxy"}, "mark": {"type": "text", "font": "DejaVu Serif", "fontStyle": "italic", "fontSize": 24, "align": "left", "baseline": "alphabetic", "color": "black"},
          "encoding": {"text": {"field": "s"}, "y": {"field": "v", "type": "quantitative", "scale": {"domain": [-0.5, 3.5], "nice": false, "zero": false}, "axis": {"title": null, "labels": false, "values": [0, 0.5, 1, 1.5, 2, 3]}}}},
        {"data": {"name": "sxy"}, "mark": {"type": "text", "font": "DejaVu Serif", "fontStyle": "italic", "fontSize": 17, "align": "left", "baseline": "alphabetic", "color": "black"},
          "encoding": {"text": {"field": "s"}, "y": {"field": "v", "type": "quantitative", "scale": {"domain": [-0.5, 3.5], "nice": false, "zero": false}, "axis": {"title": null, "labels": false, "values": [0, 0.5, 1, 1.5, 2, 3]}}}}
      ]
    },
    {
      "width": 280,
      "height": 265,
      "data": {"name": "yz"},
      "encoding": {
        "x": {"field": "t", "type": "quantitative", "scale": {"domain": [-40, 40], "nice": false, "zero": false}, "axis": {"title": "τ⁺", "values": [-40, -20, 0, 20, 40]}}
      },
      "layer": [
        {"transform": [{"filter": "isValid(datum.lo)"}], "mark": {"type": "errorbar", "color": "#ff0000", "thickness": 1.1, "ticks": {"size": 7}},
          "encoding": {"y": {"field": "lo", "type": "quantitative", "scale": {"domain": [-0.5, 3.5], "nice": false, "zero": false}, "axis": {"title": null, "labels": false, "values": [0, 0.5, 1, 1.5, 2, 3]}}, "y2": {"field": "hi"}}},
        {"transform": [{"filter": "isValid(datum.d)"}], "mark": {"type": "point", "shape": "M-1,-0.55L1,0.55M-1,0.55L1,-0.55", "filled": false, "color": "#ff0000", "strokeWidth": 1.1, "size": 64, "opacity": 1},
          "encoding": {"y": {"field": "d", "type": "quantitative", "scale": {"domain": [-0.5, 3.5], "nice": false, "zero": false}, "axis": {"title": null, "labels": false, "values": [0, 0.5, 1, 1.5, 2, 3]}}}},
        {"mark": {"type": "line", "color": "#0000ff", "strokeWidth": 2.5},
          "encoding": {"y": {"field": "m", "type": "quantitative", "scale": {"domain": [-0.5, 3.5], "nice": false, "zero": false}, "axis": {"title": null, "labels": false, "values": [0, 0.5, 1, 1.5, 2, 3]}}, "detail": {"field": "k"}}},
        {"data": {"name": "cyz"}, "mark": {"type": "point", "shape": "circle", "filled": false, "color": "black", "strokeWidth": 1.8, "size": 100, "opacity": 1},
          "encoding": {"y": {"field": "v", "type": "quantitative", "scale": {"domain": [-0.5, 3.5], "nice": false, "zero": false}, "axis": {"title": null, "labels": false, "values": [0, 0.5, 1, 1.5, 2, 3]}}}},
        {"data": {"name": "lyz"}, "mark": {"type": "text", "font": "DejaVu Serif", "fontStyle": "italic", "fontSize": 24, "align": "left", "baseline": "alphabetic", "color": "black"},
          "encoding": {"text": {"field": "s"}, "y": {"field": "v", "type": "quantitative", "scale": {"domain": [-0.5, 3.5], "nice": false, "zero": false}, "axis": {"title": null, "labels": false, "values": [0, 0.5, 1, 1.5, 2, 3]}}}},
        {"data": {"name": "syz"}, "mark": {"type": "text", "font": "DejaVu Serif", "fontStyle": "italic", "fontSize": 17, "align": "left", "baseline": "alphabetic", "color": "black"},
          "encoding": {"text": {"field": "s"}, "y": {"field": "v", "type": "quantitative", "scale": {"domain": [-0.5, 3.5], "nice": false, "zero": false}, "axis": {"title": null, "labels": false, "values": [0, 0.5, 1, 1.5, 2, 3]}}}}
      ]
    }
  ]
}
